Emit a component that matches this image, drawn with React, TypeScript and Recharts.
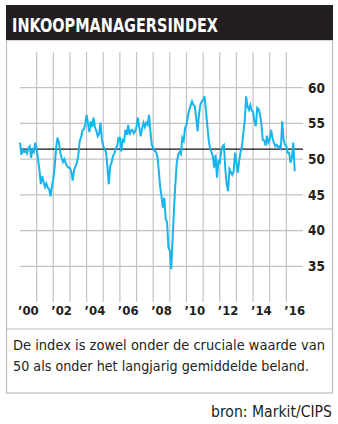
import React from "react";
import { LineChart, Line, XAxis, YAxis, ReferenceLine } from "recharts";

const pmi2000 = [52.3, 50.6, 51.3, 51.0, 51.2, 50.8, 51.5, 51.8, 50.2, 51.3, 51.0, 52.3];
const pmi2001 = [51.5, 50.0, 48.5, 46.5, 47.6, 46.8, 46.1, 46.6, 46.0, 45.8, 44.8, 46.2];
const pmi2002 = [47.2, 49.0, 51.5, 53.0, 52.4, 51.0, 50.2, 49.6, 50.0, 49.4, 49.0, 48.8];
const pmi2003 = [48.8, 48.2, 47.0, 48.5, 49.0, 49.5, 50.5, 52.5, 53.0, 54.0, 54.2, 54.8];
const pmi2004 = [56.2, 55.0, 53.8, 55.3, 54.5, 55.8, 54.5, 54.0, 53.2, 53.5, 55.1, 52.8];
const pmi2005 = [51.8, 51.4, 51.0, 49.0, 46.5, 49.0, 49.5, 50.4, 50.8, 51.5, 51.8, 53.0];
const pmi2006 = [53.0, 51.1, 52.7, 52.5, 54.1, 53.4, 54.8, 53.4, 54.0, 54.1, 53.6, 53.9];
const pmi2007 = [54.6, 55.8, 54.4, 53.2, 54.3, 55.1, 54.5, 55.1, 54.8, 56.2, 53.9, 52.0];
const pmi2008 = [51.6, 51.2, 51.0, 50.4, 48.5, 46.2, 44.8, 43.2, 44.6, 41.6, 41.2, 37.6];
const pmi2009 = [37.2, 34.6, 38.8, 43.0, 46.5, 49.5, 50.6, 51.0, 50.7, 53.0, 52.6, 54.4];
const pmi2010 = [54.8, 56.0, 56.9, 57.5, 58.1, 57.6, 57.4, 55.8, 53.9, 56.2, 57.6, 58.1];
const pmi2011 = [58.3, 58.8, 56.9, 54.8, 52.7, 51.5, 51.0, 50.4, 48.8, 50.6, 47.4, 49.7];
const pmi2012 = [49.5, 51.1, 51.8, 52.0, 48.6, 46.5, 45.5, 48.6, 48.2, 47.8, 48.3, 50.9];
const pmi2013 = [49.5, 48.1, 49.8, 51.0, 51.8, 53.6, 55.4, 58.8, 57.4, 56.9, 57.6, 56.8];
const pmi2014 = [56.6, 55.3, 54.6, 57.2, 57.0, 56.3, 54.9, 52.7, 52.6, 51.9, 53.3, 52.3];
const pmi2015 = [52.7, 54.1, 53.0, 52.3, 51.8, 52.0, 51.7, 51.8, 51.5, 55.3, 52.7, 52.0];
const pmi2016 = [51.8, 50.9, 50.9, 49.5, 50.2, 52.3, 48.3];

const seriesByYear: [number, number[]][] = [
  [2000, pmi2000], [2001, pmi2001], [2002, pmi2002], [2003, pmi2003],
  [2004, pmi2004], [2005, pmi2005], [2006, pmi2006], [2007, pmi2007],
  [2008, pmi2008], [2009, pmi2009], [2010, pmi2010], [2011, pmi2011],
  [2012, pmi2012], [2013, pmi2013], [2014, pmi2014], [2015, pmi2015],
  [2016, pmi2016],
];

const longTermAverage = 51.4;
const yTicks = [35, 40, 45, 50, 55, 60];
const gridYears = [2001, 2002, 2003, 2004, 2005, 2006, 2007, 2008, 2009, 2010, 2011, 2012, 2013, 2014, 2015, 2016];
const labelYears = [2000, 2002, 2004, 2006, 2008, 2010, 2012, 2014, 2016];
const xTickLabels = ["’00", "’02", "’04", "’06", "’08", "’10", "’12", "’14", "’16"];

const titleText = "INKOOPMANAGERSINDEX";
const captionLine1 = "De index is zowel onder de cruciale waarde van";
const captionLine2 = "50 als onder het langjarig gemiddelde beland.";
const sourceText = "bron: Markit/CIPS";

const data = seriesByYear.flatMap(([year, vals]) =>
  vals.map((v, m) => ({ t: year + m / 12, pmi: v }))
);

const condensed = "'Liberation Sans Narrow', 'DejaVu Sans Condensed', 'DejaVu Sans', sans-serif";
const ink = "#231f20";
const gridColor = "#c3c3c3";

const labelFor = (v: number) => {
  const idx = labelYears.indexOf(Math.round(v - 0.5));
  return idx >= 0 ? xTickLabels[idx] : "";
};

export default function App() {
  return (
    <div style={{ position: "absolute", left: 0, top: 0, width: 338, height: 424, background: "#fff" }}>
      <svg width={338} height={424} style={{ position: "absolute", left: 0, top: 0 }}>
        <rect x={6.5} y={40} width={326} height={353} fill="none" stroke="#bdbdbd" strokeWidth={1.2} />
        <line x1={6.5} x2={332.5} y1={329} y2={329} stroke="#bdbdbd" strokeWidth={1.2} />
        <rect x={6} y={5} width={327} height={35} fill={ink} />
        <text x={12} y={32} fill="#fff" fontFamily={condensed} fontWeight="bold" fontSize={19.5}
          textLength={206} lengthAdjust="spacingAndGlyphs" style={{ fontStretch: "condensed" }}>{titleText}</text>
        <text x={13} y={349.5} fill={ink} fontFamily={condensed} fontSize={14.5}
          textLength={312} lengthAdjust="spacingAndGlyphs" style={{ fontStretch: "condensed" }}>{captionLine1}</text>
        <text x={13} y={371} fill={ink} fontFamily={condensed} fontSize={14.5}
          textLength={296} lengthAdjust="spacingAndGlyphs" style={{ fontStretch: "condensed" }}>{captionLine2}</text>
        <text x={211} y={416.5} fill={ink} fontFamily={condensed} fontSize={15}
          textLength={121} lengthAdjust="spacingAndGlyphs" style={{ fontStretch: "condensed" }}>{sourceText}</text>
      </svg>
      <div style={{ position: "absolute", left: 0, top: 0 }}>
        <LineChart width={338} height={330} data={data} margin={{ top: 52, right: 0, bottom: 0, left: 20 }}>
          <XAxis dataKey="t" type="number" domain={[2000, 2017]} ticks={labelYears.map((y) => y + 0.5)}
            tickFormatter={labelFor} interval={0} height={28} axisLine={false} tickLine={false}
            tickSize={2} tickMargin={2}
            tick={{ fill: ink, fontSize: 13, fontWeight: "bold", fontFamily: condensed, style: { fontStretch: "condensed" } }} />
          <YAxis orientation="right" type="number" domain={[30, 65]} ticks={yTicks} width={35}
            axisLine={false} tickLine={false} tickSize={3} tickMargin={2} interval={0}
            tick={{ fill: ink, fontSize: 13.5, fontWeight: "bold", fontFamily: condensed, textAnchor: "start", style: { fontStretch: "condensed" } }} />
          {gridYears.map((y) => (
            <ReferenceLine key={"gx" + y} x={y} stroke={gridColor} strokeWidth={1.2} />
          ))}
          {yTicks.map((v) => (
            <ReferenceLine key={"gy" + v} y={v} stroke={gridColor} strokeWidth={1.2} />
          ))}
          <ReferenceLine y={longTermAverage} stroke="#111" strokeWidth={1.4} />
          <Line type="linear" dataKey="pmi" stroke="#19b4ec" strokeWidth={2} dot={false} isAnimationActive={false} />
        </LineChart>
      </div>
    </div>
  );
}
